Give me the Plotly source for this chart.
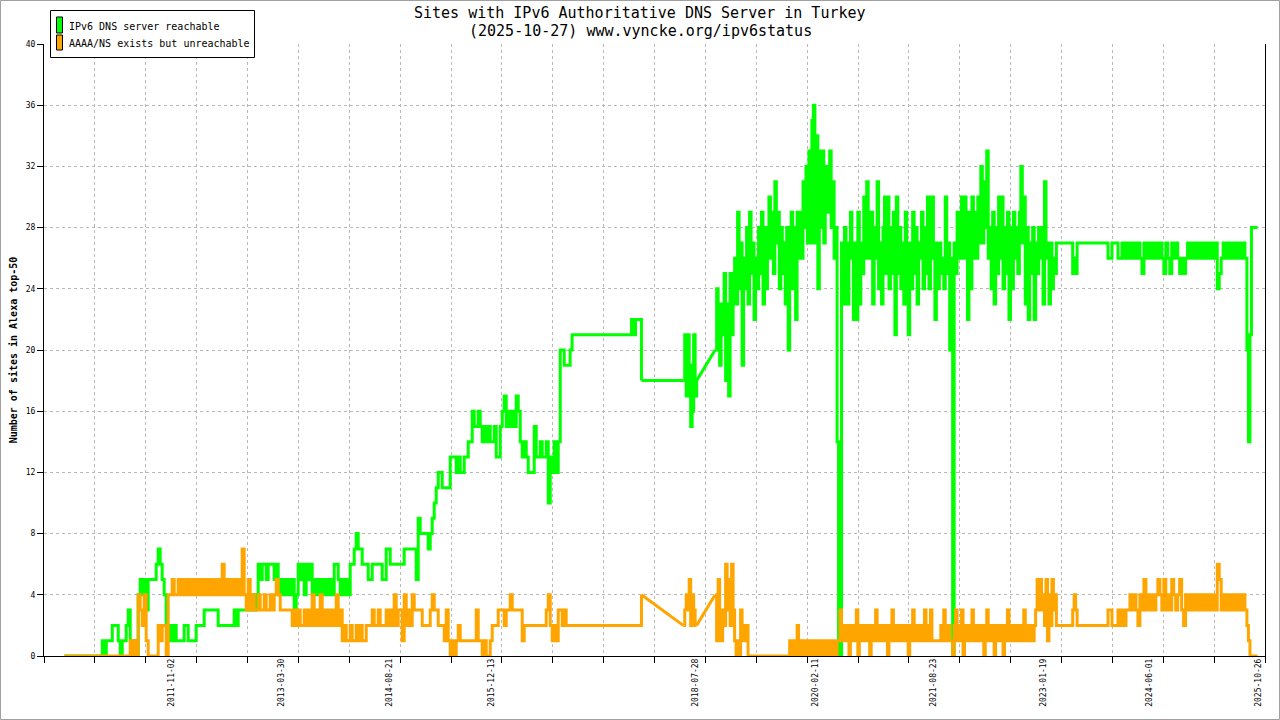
import pandas as pd
import plotly.graph_objects as go

# ---- data -------------------------------------------------------------
title_line1 = "Sites with IPv6 Authoritative DNS Server in Turkey"
title_line2 = "(2025-10-27) www.vyncke.org/ipv6status"
series_names = ["IPv6 DNS server reachable", "AAAA/NS exists but unreachable"]
y_title = "Number of sites in Alexa top-50"

x_label_dates = ["2011-11-02", "2013-03-30", "2014-08-21", "2015-12-13", "2018-07-28",
                 "2020-02-11", "2021-08-23", "2023-01-19", "2024-06-01", "2025-10-26"]

# measurement periods (samples inside a period are evenly spaced)
segment_start = ["2010-06-16", "2011-06-07", "2012-03-15", "2013-03-26", "2014-04-06",
                 "2015-04-17", "2016-04-27", "2016-11-01", "2018-06-02", "2018-10-30",
                 "2019-05-29", "2019-12-03", "2020-06-08", "2020-12-13", "2021-06-19",
                 "2021-12-24", "2022-06-30", "2023-01-04", "2023-07-11", "2024-07-20",
                 "2025-09-02"]
segment_end = ["2011-06-07", "2012-03-15", "2013-03-26", "2014-04-06", "2015-04-17",
               "2016-04-27", "2016-11-01", "2017-11-27", "2018-08-11", "2019-05-29",
               "2019-12-03", "2020-06-08", "2020-12-13", "2021-06-19", "2021-12-24",
               "2022-06-30", "2023-01-04", "2023-07-11", "2024-07-20", "2025-09-02",
               "2025-10-29"]

green_segments = [
    [0, 0, 0, 0, 0, 0, 0, 0, 0, 0, 0, 0, 0, 0, 0, 0, 0, 0, 0,
     1, 0, 1, 1, 1, 2, 2, 2, 1, 0, 1, 1, 2, 3, 1, 0, 1, 0, 4],
    [5, 4, 5, 3, 5, 5, 5, 5, 6, 7, 6, 5, 4, 2, 1, 2, 1, 2, 1, 1,
     1, 1, 2, 2, 1, 1, 1, 1, 2, 2],
    [2, 2, 3, 3, 3, 3, 3, 3, 3, 2, 2, 2, 2, 2, 2, 2, 2, 3, 2, 3,
     3, 3, 3, 3, 4, 3, 4, 3, 4, 6, 5, 6, 6, 5, 6, 6, 6, 5, 6, 4],
    [5, 4, 5, 4, 5, 4, 5, 3, 4, 6, 5, 6, 4, 6, 5, 6, 4, 5, 4, 5,
     4, 5, 4, 5, 4, 5, 4, 6, 6, 5, 4, 5, 4, 5, 4, 6, 6, 7, 8, 7],
    [7, 6, 6, 6, 5, 5, 6, 6, 6, 6, 6, 5, 5, 7, 7, 6, 6, 6, 6, 6,
     6, 6, 7, 7, 7, 7, 7, 7, 5, 9, 8, 8, 8, 8, 7, 8, 9, 10, 11, 12],
    [12, 11, 11, 11, 11, 13, 13, 13, 12, 13, 12, 12, 13, 13, 14, 14, 16, 15, 15, 16,
     15, 14, 15, 14, 15, 14, 14, 15, 13, 13, 15, 16, 17, 15, 16, 15, 16, 15, 17, 16],
    [14, 13, 14, 13, 12, 12, 12, 15, 13, 13, 14, 13, 13, 14, 10, 13, 12, 14, 12, 14],
    [20, 20, 19, 19, 19, 20, 21,
     21, 21, 21, 21, 21, 21, 21, 21, 21, 21, 21, 21, 21, 21, 21,
     21, 21, 21, 21, 21, 21, 21, 21, 21, 21, 21, 21, 21, 21,
     22, 21, 22, 22, 22, 18],
    [18, 21, 17, 21, 19, 15, 16, 21, 17, 18],
    [20, 24, 22, 19, 23, 21, 25, 18, 23, 17, 25, 21, 23, 26, 23, 29, 24, 27, 19, 26,
     24, 28, 23, 29, 25, 27, 22, 26, 24, 28],
    [25, 29, 23, 28, 24, 27, 30, 26, 29, 25, 31, 27, 29, 24, 28, 25, 27, 23, 28, 20,
     26, 29, 24, 28, 22, 29, 26],
    [29, 26, 31, 28, 32, 27, 33, 27, 35, 36, 27, 34, 24, 33, 28, 33, 27, 32, 29, 31,
     33, 28, 31, 26, 28, 14, 0],
    [0, 27, 23, 28, 26, 23, 27, 29, 26, 22, 27, 22, 29, 23, 27, 25, 30, 26, 31, 29,
     26, 29, 23, 28, 26, 31, 24],
    [27, 23, 28, 30, 25, 30, 24, 28, 25, 29, 21, 30, 25, 28, 24, 27, 23, 29, 25, 21,
     27, 24, 29, 25, 28, 23, 27],
    [26, 29, 24, 28, 25, 30, 24, 27, 30, 26, 22, 27, 24, 27, 25, 26, 24, 30, 25, 27,
     20, 26, 0, 27, 25, 29, 26],
    [28, 30, 26, 30, 27, 22, 29, 24, 30, 26, 29, 26, 30, 27, 32, 27, 31, 28, 33, 26,
     28, 24, 29, 23, 28, 25, 30],
    [26, 30, 24, 28, 25, 29, 22, 28, 24, 29, 26, 28, 25, 29, 32, 27, 30, 23, 28, 22,
     27, 25, 28, 22, 27, 25, 28],
    [26, 28, 23, 31, 26, 27, 23, 27, 24, 26, 25, 27, 27, 27, 27, 27, 27, 27, 27, 27,
     27, 27, 25, 26, 25, 27, 27],
    [27, 27, 27, 27, 27, 27, 27, 27, 27, 27, 27, 27, 27, 27, 26, 26, 27, 27, 27, 26,
     26, 27, 26, 27, 26, 27, 26, 27, 26, 27, 26, 25, 27, 26, 27, 26, 27, 26, 27, 26],
    [27, 26, 25, 27, 26, 25, 27, 26, 27, 26, 25, 26, 25, 26, 27, 26, 27, 26, 27, 26,
     27, 26, 27, 26, 27, 26, 27, 26, 27, 24, 25, 26, 27, 26, 27, 26, 27, 26, 27, 26,
     27, 26, 27, 26],
    [20, 14, 21, 28, 28, 28, 28, 28],
]

orange_segments = [
    [0, 0, 0, 0, 0, 0, 0, 0, 0, 0, 0, 0, 0, 0, 0, 0, 0, 0, 0, 0,
     0, 0, 0, 0, 0, 0, 0, 0, 0, 0, 0, 0, 0, 1, 0, 1, 0, 4],
    [3, 2, 4, 1, 0, 0, 0, 0, 0, 2, 1, 2, 2, 0, 4, 4, 5, 4, 4, 5,
     4, 5, 4, 5, 4, 5, 4, 5, 4, 5],
    [4, 5, 4, 5, 4, 5, 4, 5, 4, 5, 4, 6, 4, 5, 4, 5, 4, 5, 4, 5,
     4, 7, 4, 3, 5, 3, 4, 3, 3, 4, 3, 3, 4, 3, 3, 4, 3, 4, 5, 4],
    [3, 3, 3, 3, 3, 3, 2, 3, 2, 3, 2, 2, 3, 2, 3, 2, 4, 2, 3, 2,
     4, 2, 3, 2, 3, 2, 3, 2, 4, 2, 3, 1, 2, 1, 1, 2, 1, 1, 2, 1],
    [2, 1, 1, 2, 2, 2, 3, 2, 2, 3, 2, 2, 2, 3, 2, 3, 2, 4, 2, 3,
     3, 1, 4, 2, 3, 2, 4, 3, 3, 3, 3, 2, 2, 2, 2, 3, 4, 3, 3, 2],
    [2, 2, 1, 3, 1, 0, 1, 0, 1, 2, 1, 1, 1, 1, 1, 1, 1, 1, 3, 1,
     1, 0, 1, 0, 0, 1, 2, 2, 2, 3, 3, 3, 2, 3, 3, 4, 3, 3, 3, 3],
    [3, 1, 2, 2, 2, 2, 2, 2, 2, 2, 2, 2, 2, 3, 4, 2, 1, 2, 1, 3],
    [3, 2, 3, 2,
     2, 2, 2, 2, 2, 2, 2, 2, 2, 2, 2, 2, 2, 2, 2, 2, 2, 2, 2,
     2, 2, 2, 2, 2, 2, 2, 2, 2, 2, 2, 2, 2, 2, 2, 2, 2, 2,
     4],
    [2, 3, 4, 3, 5, 2, 4, 3, 2, 2],
    [4, 1, 5, 3, 1, 3, 2, 6, 3, 5, 2, 6, 3, 1, 0, 1, 0, 3, 1, 2,
     1, 2, 0, 0, 0, 0, 0, 0, 0, 0],
    [0, 0, 0, 0, 0, 0, 0, 0, 0, 0, 0, 0, 0, 0, 0, 0, 0, 0, 0, 0,
     1, 0, 1, 0, 1, 2, 0],
    [1, 0, 1, 1, 0, 1, 0, 0, 1, 0, 1, 1, 0, 1, 0, 1, 0, 0, 1, 0,
     1, 1, 0, 1, 0, 1, 1],
    [3, 1, 2, 1, 2, 1, 0, 2, 1, 2, 1, 3, 0, 2, 1, 2, 1, 2, 1, 2,
     0, 1, 2, 1, 3, 1, 2],
    [2, 1, 2, 1, 2, 0, 2, 1, 3, 1, 2, 1, 2, 1, 2, 2, 1, 2, 1, 0,
     2, 1, 3, 1, 2, 1, 2],
    [1, 2, 1, 3, 1, 2, 1, 3, 1, 1, 1, 1, 1, 1, 2, 1, 3, 1, 1, 2,
     1, 1, 0, 2, 3, 1, 2],
    [1, 3, 0, 2, 1, 2, 1, 2, 3, 1, 2, 1, 2, 1, 2, 1, 0, 2, 3, 1,
     2, 1, 2, 0, 2, 1, 2],
    [1, 2, 0, 2, 1, 3, 1, 2, 1, 2, 2, 1, 2, 1, 2, 1, 3, 1, 2, 1,
     2, 2, 1, 2, 3, 5, 3],
    [5, 3, 4, 2, 5, 1, 4, 2, 5, 3, 4, 2, 2, 2, 2, 2, 2, 2, 2, 2,
     2, 2, 3, 4, 3, 2, 2],
    [2, 2, 2, 2, 2, 2, 2, 2, 2, 2, 2, 2, 2, 2, 3, 3, 2, 2, 2, 3,
     2, 3, 2, 3, 3, 4, 3, 4, 3, 2, 4, 3, 5, 3, 4, 3, 4, 3, 4, 5],
    [4, 3, 5, 3, 4, 3, 5, 4, 3, 4, 5, 3, 2, 4, 3, 4, 3, 4, 3, 4,
     3, 4, 3, 4, 3, 4, 3, 4, 3, 6, 5, 3, 4, 3, 4, 3, 4, 3, 4, 3,
     4, 3, 4, 3],
    [2, 1, 0, 0, 0, 0, 0, 0],
]

# ---- styling ----------------------------------------------------------
GREEN = "#00ff00"
ORANGE = "#ffa500"
MONO = "DejaVu Sans Mono, Liberation Mono, monospace"
GRID = "#b8b8b8"
X_START = pd.Timestamp("2010-03-12")
X_END = pd.Timestamp("2025-11-26")
W, H = 1280, 720
ML, MR, MT, MB = 44, 15, 44, 64
PW, PH = W - ML - MR, H - MT - MB


def px(x):
    return (x - ML) / PW


def py(y):
    return (H - MB - y) / PH


def build(segments):
    """Return continuous blocks of (dates, values); a new block starts after a data gap."""
    blocks = []
    xs, ys = [], []
    for i, (s, e, vals) in enumerate(zip(segment_start, segment_end, segments)):
        s, e = pd.Timestamp(s), pd.Timestamp(e)
        n = len(vals)
        for k, v in enumerate(vals):
            xs.append(s + (e - s) * (k / n))
            ys.append(v)
        if i + 1 == len(segment_start) or segment_start[i + 1] != segment_end[i]:
            blocks.append((xs, ys))
            xs, ys = [], []
    return blocks


fig = go.Figure()
for segs, col, xa in [(green_segments, GREEN, "x"), (orange_segments, ORANGE, "x2")]:
    blocks = build(segs)
    for j, (bx, by) in enumerate(blocks):
        fig.add_trace(go.Scatter(x=bx, y=by, mode="lines", line_shape="hv",
                                 line=dict(color=col, width=3),
                                 showlegend=False, xaxis=xa, yaxis="y"))
        if j + 1 < len(blocks):
            nx, ny = blocks[j + 1]
            fig.add_trace(go.Scatter(x=[bx[-1], nx[0]], y=[by[-1], ny[0]], mode="lines",
                                     line=dict(color=col, width=3),
                                     showlegend=False, xaxis=xa, yaxis="y"))

tick_ms = (X_END - X_START).total_seconds() * 1000 / 24

# manual legend (box, swatches, labels)
shapes = [
    dict(type="rect", xref="paper", yref="paper",
         x0=px(0.5), x1=px(W - 0.5), y0=py(H - 0.5), y1=py(0.5),
         line=dict(color="#a0a0a0", width=1), fillcolor="rgba(0,0,0,0)", layer="below"),
    dict(type="rect", xref="paper", yref="paper",
         x0=px(50.5), x1=px(254.5), y0=py(57.5), y1=py(10.5),
         line=dict(color="black", width=1), fillcolor="white", layer="above"),
]
annotations = []
for name, col, ytop, ybot, ytxt in [(series_names[0], GREEN, 17, 33, 26),
                                    (series_names[1], ORANGE, 35, 50, 43)]:
    shapes.append(dict(type="rect", xref="paper", yref="paper",
                       x0=px(56.5), x1=px(62.5), y0=py(ybot), y1=py(ytop),
                       line=dict(color="black", width=1), fillcolor=col, layer="above"))
    annotations.append(dict(text=name, xref="paper", yref="paper", x=px(67), y=py(ytxt),
                            xanchor="left", yanchor="middle", showarrow=False,
                            font=dict(family=MONO, size=10, color="black")))
for t, yy in [(title_line1, 13), (title_line2, 31)]:
    annotations.append(dict(text=t, xref="paper", yref="paper", x=px(640), y=py(yy),
                            xanchor="center", yanchor="middle", showarrow=False,
                            font=dict(family=MONO, size=15, color="black")))

fig.update_layout(
    width=W, height=H,
    margin=dict(l=ML, r=MR, t=MT, b=MB, autoexpand=False),
    paper_bgcolor="white", plot_bgcolor="white",
    font=dict(family=MONO, color="black"),
    showlegend=False,
    xaxis=dict(type="date", range=[X_START, X_END], tick0=X_START, dtick=tick_ms,
               showticklabels=False, ticks="outside", ticklen=6, tickcolor="black",
               showgrid=True, gridcolor=GRID, griddash="3px,3px", gridwidth=1,
               showline=True, linecolor="black", linewidth=1, zeroline=False,
               automargin=False),
    xaxis2=dict(type="date", range=[X_START, X_END], overlaying="x", matches="x",
                side="bottom", anchor="y", tickmode="array",
                tickvals=x_label_dates, ticktext=x_label_dates, tickangle=-90,
                ticks="", showgrid=False, showline=False, zeroline=False,
                automargin=False,
                tickfont=dict(family=MONO, size=8, color="black")),
    yaxis=dict(range=[0, 40], tick0=0, dtick=4, ticks="outside", ticklen=6,
               tickcolor="black", tickfont=dict(family=MONO, size=8, color="black"),
               showgrid=True, gridcolor=GRID, griddash="3px,3px", gridwidth=1,
               showline=True, linecolor="black", linewidth=1, mirror=True,
               zeroline=False, automargin=False,
               title=dict(text="<b>" + y_title + "</b>", standoff=6,
                          font=dict(family=MONO, size=10, color="black"))),
    shapes=shapes,
    annotations=annotations,
)

fig.write_html("out.html", config={"displayModeBar": False},
               post_script="document.body.style.margin='0';")
